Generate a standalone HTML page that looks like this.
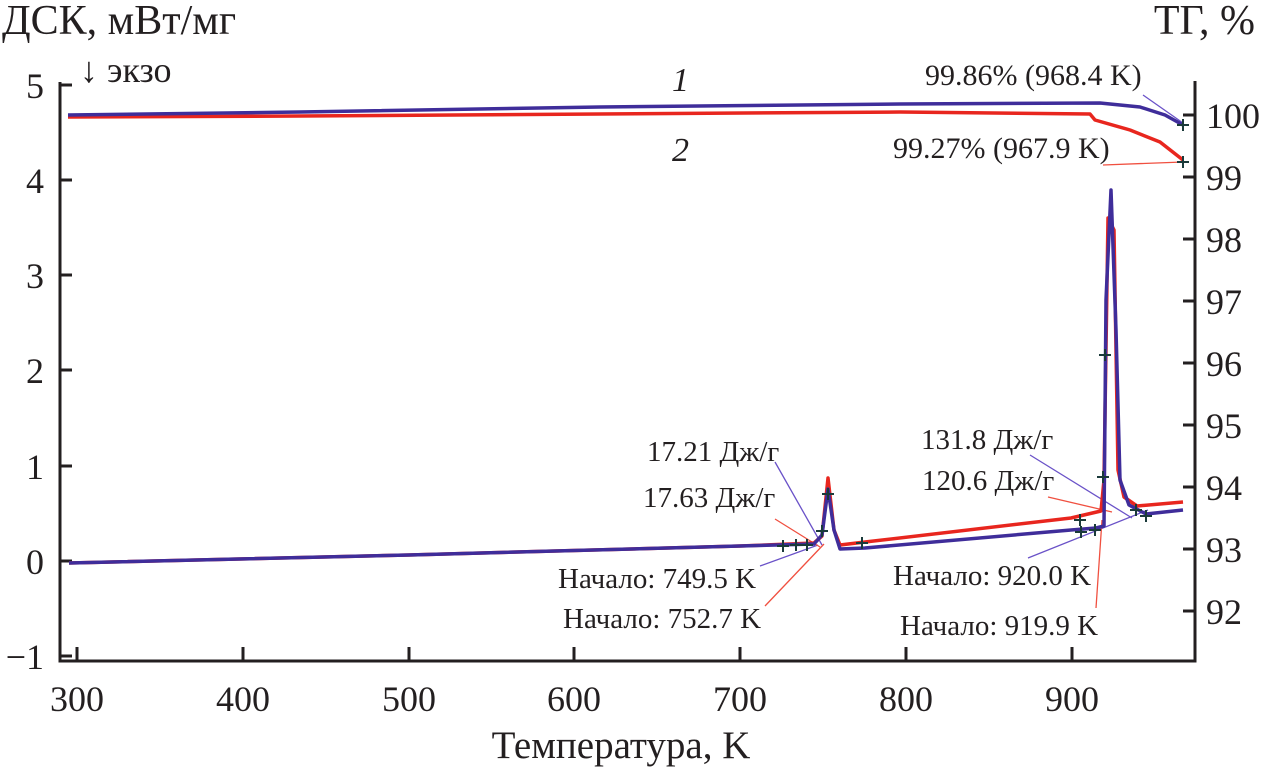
<!DOCTYPE html>
<html><head><meta charset="utf-8"><style>body{margin:0;background:#fff}svg{display:block}text{font-family:"Liberation Serif",serif;fill:#231f20}</style></head>
<body>
<svg width="1262" height="768" viewBox="0 0 1262 768" xmlns="http://www.w3.org/2000/svg">
<g stroke="#231f20" stroke-width="3" fill="none">
<path d="M60,82 V661 H1195 V81"/>
<path d="M60,85 h12 M60,180 h12 M60,275 h12 M60,370 h12 M60,466 h12 M60,561 h12 M60,656 h12"/>
<path d="M77,661 v-14 M243,661 v-14 M409,661 v-14 M574,661 v-14 M740,661 v-14 M906,661 v-14 M1072,661 v-14"/>
<path d="M1195,115 h-12 M1195,177 h-12 M1195,239 h-12 M1195,301 h-12 M1195,363 h-12 M1195,425 h-12 M1195,487 h-12 M1195,549 h-12 M1195,611 h-12"/>
</g>
<g font-size="36">
<text x="2" y="34" font-size="42">ДСК, мВт/мг</text>
<text x="1255" y="34" text-anchor="end" font-size="42">ТГ, %</text>
<text x="80" y="82" font-size="36">↓ экзо</text>
<g text-anchor="end"><text x="44" y="98">5</text><text x="44" y="193">4</text><text x="44" y="288">3</text><text x="44" y="383">2</text><text x="44" y="479">1</text><text x="44" y="574">0</text><text x="44" y="669">−1</text></g>
<g><text x="1206" y="128">100</text><text x="1206" y="190">99</text><text x="1206" y="252">98</text><text x="1206" y="314">97</text><text x="1206" y="376">96</text><text x="1206" y="438">95</text><text x="1206" y="500">94</text><text x="1206" y="562">93</text><text x="1206" y="624">92</text></g>
<g text-anchor="middle"><text x="77" y="711">300</text><text x="243" y="711">400</text><text x="409" y="711">500</text><text x="574" y="711">600</text><text x="740" y="711">700</text><text x="906" y="711">800</text><text x="1072" y="711">900</text></g>
<text x="621" y="758" text-anchor="middle" font-size="39">Температура, K</text>
<text x="672" y="91" font-style="italic" font-size="34">1</text>
<text x="672" y="161" font-style="italic" font-size="34">2</text>
</g>
<g font-size="29">
<text x="925" y="85" font-size="30">99.86% (968.4 K)</text>
<text x="893" y="158" font-size="30">99.27% (967.9 K)</text>
<text x="647" y="461">17.21 Дж/г</text>
<text x="643" y="507">17.63 Дж/г</text>
<text x="558" y="588">Начало: 749.5 K</text>
<text x="563" y="628">Начало: 752.7 K</text>
<text x="921" y="449">131.8 Дж/г</text>
<text x="922" y="490">120.6 Дж/г</text>
<text x="893" y="585">Начало: 920.0 K</text>
<text x="900" y="635">Начало: 919.9 K</text>
</g>
<g fill="none" stroke-width="1.3">
<path stroke="#6a52c8" d="M1143,95 L1183,123 M775,462 L822,545 M760,566 L818,545 M1030,455 L1132,518 M1028,558 L1148,510"/>
<path stroke="#f05040" d="M1103,165 L1183,162 M775,519 L820,547 M765,606 L824,544 M1048,497 L1112,512 M1096,608 L1102,520"/>
</g>
<g fill="none" stroke-width="3.5" stroke-linejoin="round">
<path stroke="#e8261e" d="M68,117 L300,116 L600,114 L900,112 L1090,114 L1095,120 L1130,130 L1160,142 L1183,160"/>
<path stroke="#3f2d9a" d="M68,115 L300,112 L600,107 L900,104 L1100,103 L1140,107 L1165,115 L1183,125"/>
<path stroke="#e8261e" d="M69,563 L409,555 L740,546 L814,543 L822,536 L828,478 L834,530 L840,545 L865,542 L1071,518 L1101,511 L1104,480 L1108,218 L1114,230 L1118,470 L1124,497 L1137,506 L1183,502"/>
<path stroke="#3f2d9a" d="M69,563 L409,555 L740,546 L814,544 L822,535 L828,489 L834,530 L840,549 L865,548 L1071,530 L1096,528 L1104,526 L1106,300 L1111,190 L1116,330 L1120,480 L1129,505 L1146,514 L1183,510"/>
</g>
<g stroke="#1a3a3a" stroke-width="2" fill="none">
<path d="M1177,125 h12 M1183,119 v12 M1177,162 h12 M1183,156 v12"/>
<path d="M777,546 h12 M783,540 v12 M790,545 h12 M796,539 v12 M801,545 h12 M807,539 v12 M816,531 h12 M822,525 v12 M822,494 h12 M828,488 v12 M856,543 h12 M862,537 v12"/>
<path d="M1074,520 h12 M1080,514 v12 M1075,532 h12 M1081,526 v12 M1089,530 h12 M1095,524 v12 M1097,477 h12 M1103,471 v12 M1099,355 h12 M1105,349 v12 M1130,510 h12 M1136,504 v12 M1140,516 h12 M1146,510 v12"/>
</g>
</svg>
</body></html>
